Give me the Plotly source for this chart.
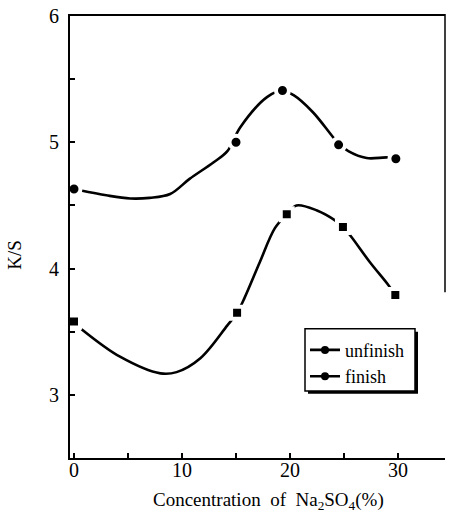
import plotly.graph_objects as go

# ---- data ----
conc = [0, 15, 19.3, 24.5, 29.8]
unfinish_ks = [4.63, 5.00, 5.41, 4.98, 4.87]
conc_f = [0, 15.1, 19.7, 24.9, 29.75]
finish_ks = [3.58, 3.65, 4.43, 4.33, 3.79]

# hand-drawn smoothing curves
unfinish_curve_x = [0.55, 3.0, 5.2, 7.0, 8.9, 10.7, 12.9, 14.2, 15.4, 17.9, 19.3, 20.3, 22.1, 23.9, 24.5, 25.4, 27.1, 29.0, 29.8]
unfinish_curve_y = [4.62, 4.58, 4.555, 4.56, 4.59, 4.71, 4.84, 4.93, 5.12, 5.36, 5.41, 5.375, 5.24, 5.05, 4.99, 4.93, 4.875, 4.88, 4.87]
finish_curve_x = [0.7, 4.3, 8.0, 9.5, 11.7, 14.2, 15.1, 15.8, 17.2, 18.6, 19.7, 20.6, 22.5, 24.2, 24.9, 25.6, 27.4, 29.1, 29.75]
finish_curve_y = [3.52, 3.30, 3.17, 3.18, 3.29, 3.55, 3.65, 3.77, 4.05, 4.32, 4.43, 4.50, 4.46, 4.38, 4.33, 4.26, 4.05, 3.87, 3.79]

x_tickvals = [0, 10, 20, 30]
y_tickvals = [3, 4, 5, 6]

FONT = "Liberation Serif"

# pixel -> paper helpers (plot area 70..445 x 10..458)
L, R, T, B = 70, 445, 10, 458
def pxx(p):
    return (p - L) / (R - L)
def pxy(p):
    return 1 - (p - T) / (B - T)

fig = go.Figure()

fig.add_trace(go.Scatter(x=unfinish_curve_x, y=unfinish_curve_y, mode="lines",
                         line=dict(color="black", width=2.6, shape="spline", smoothing=1.0),
                         showlegend=False, hoverinfo="skip"))
fig.add_trace(go.Scatter(x=finish_curve_x, y=finish_curve_y, mode="lines",
                         line=dict(color="black", width=2.6, shape="spline", smoothing=1.0),
                         showlegend=False, hoverinfo="skip"))
fig.add_trace(go.Scatter(x=conc, y=unfinish_ks, mode="markers",
                         marker=dict(symbol="circle", size=13, color="black",
                                     line=dict(color="white", width=4)),
                         showlegend=False))
fig.add_trace(go.Scatter(x=conc_f, y=finish_ks, mode="markers",
                         marker=dict(symbol="square", size=12, color="black",
                                     line=dict(color="white", width=4)),
                         showlegend=False))
# legend entries
fig.add_trace(go.Scatter(x=[None], y=[None], mode="lines+markers", name="unfinish",
                         line=dict(color="black", width=2.6),
                         marker=dict(symbol="circle", size=8, color="black")))
fig.add_trace(go.Scatter(x=[None], y=[None], mode="lines+markers", name="finish",
                         line=dict(color="black", width=2.6),
                         marker=dict(symbol="circle", size=8, color="black")))

shapes = [
    # top spine
    dict(type="line", xref="paper", yref="paper", x0=pxx(68), x1=pxx(445), y0=pxy(9), y1=pxy(9),
         line=dict(color="black", width=2)),
    # partial right spine
    dict(type="line", xref="paper", yref="paper", x0=pxx(445), x1=pxx(445), y0=pxy(8), y1=pxy(290),
         line=dict(color="black", width=1.5)),
    # legend shadow
    dict(type="rect", xref="paper", yref="paper", x0=pxx(308), x1=pxx(418), y0=pxy(330), y1=pxy(393),
         fillcolor="black", line=dict(width=0), layer="above"),
    # legend box
    dict(type="rect", xref="paper", yref="paper", x0=pxx(305), x1=pxx(415), y0=pxy(327), y1=pxy(390),
         fillcolor="white", line=dict(color="black", width=1.5), layer="above"),
]

annotations = [
    dict(text="K/S", x=pxx(15), y=pxy(252), xref="paper", yref="paper", showarrow=False,
         textangle=-90, font=dict(family=FONT, size=19, color="black"),
         xanchor="center", yanchor="middle"),
    dict(text="Concentration&nbsp; of&nbsp; Na<sub>2</sub>SO<sub>4</sub>(%)", x=pxx(268), y=pxy(502),
         xref="paper", yref="paper", showarrow=False,
         font=dict(family=FONT, size=19, color="black"), xanchor="center", yanchor="middle"),
]

fig.update_layout(
    width=450, height=521,
    margin=dict(l=L, r=450 - R, t=T, b=521 - B),
    paper_bgcolor="white", plot_bgcolor="white",
    font=dict(family=FONT, size=19, color="black"),
    shapes=shapes, annotations=annotations,
    legend=dict(x=pxx(305), y=pxy(330), xanchor="left", yanchor="top",
                bgcolor="rgba(0,0,0,0)", borderwidth=0,
                font=dict(family=FONT, size=18, color="black"),
                tracegroupgap=0, itemwidth=30),
    xaxis=dict(range=[-0.37, 34.35], tickvals=x_tickvals, ticks="inside", ticklen=5,
               tickwidth=1.5, tickcolor="black", showline=True, linecolor="black", linewidth=2,
               showgrid=False, zeroline=False, ticklabelstandoff=-7,
               ticklabeloverflow="allow",
               minor=dict(tickvals=[5, 15, 25], ticks="inside", ticklen=5, tickwidth=1.5,
                          tickcolor="black", showgrid=False),
               tickfont=dict(family=FONT, size=20)),
    yaxis=dict(range=[2.5, 6], tickvals=y_tickvals, ticks="inside", ticklen=5,
               tickwidth=1.5, tickcolor="black", showline=True, linecolor="black", linewidth=2,
               showgrid=False, zeroline=False, ticklabelstandoff=5,
               ticklabeloverflow="allow",
               minor=dict(tickvals=[3.5, 4.5, 5.5], ticks="inside", ticklen=5, tickwidth=1.5,
                          tickcolor="black", showgrid=False),
               tickfont=dict(family=FONT, size=20)),
)

fig.write_html("out.html")
